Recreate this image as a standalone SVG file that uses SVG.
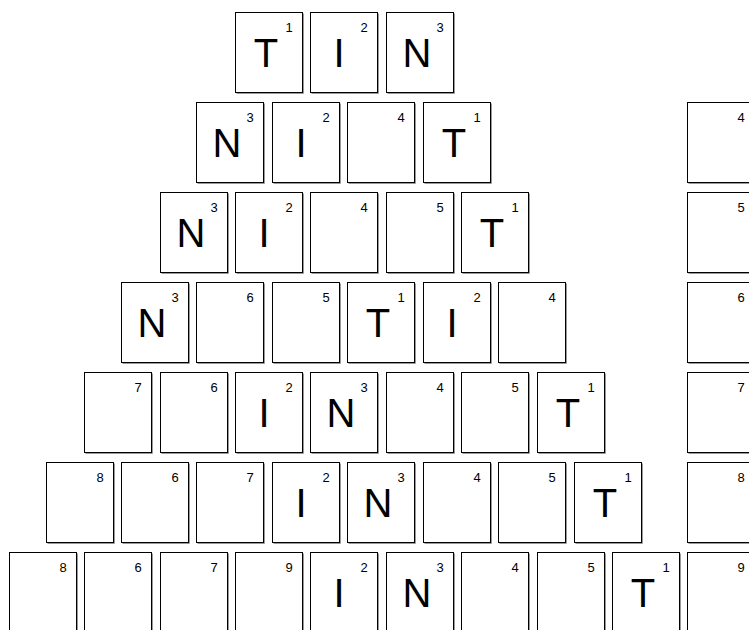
<svg xmlns="http://www.w3.org/2000/svg" width="749" height="630" viewBox="0 0 749 630">
<style>
.bg{fill:#fff}
.L{font-family:"Liberation Sans",Arial,sans-serif;font-size:40px;text-anchor:middle;fill:#000}
.N{font-family:"Liberation Sans",Arial,sans-serif;font-size:13px;text-anchor:middle;fill:#000}
</style>
<defs>
<g id="tile"><path d="M68.5,1.5 V81.5 H1.5" fill="none" stroke="#999" stroke-width="1"/><rect x="0.5" y="0.5" width="67" height="80" fill="#fff" stroke="#000" stroke-width="1"/></g>
</defs>
<rect class="bg" x="0" y="0" width="749" height="630"/>
<g id="connectors"/>
<!-- Row 1 -->
<g id="r1c1" class="t" transform="translate(235,12)"><use href="#tile"/><text class="L" x="31" y="55">T</text><text class="N" x="54" y="20">1</text></g>
<g id="r1c2" class="t" transform="translate(310,12)"><use href="#tile"/><text class="L" x="29" y="55">I</text><text class="N" x="54" y="20">2</text></g>
<g id="r1c3" class="t" transform="translate(386,12)"><use href="#tile"/><text class="L" x="31" y="55">N</text><text class="N" x="54" y="20">3</text></g>
<!-- Row 2 -->
<g id="r2c1" class="t" transform="translate(196,102)"><use href="#tile"/><text class="L" x="31" y="55">N</text><text class="N" x="54" y="20">3</text></g>
<g id="r2c2" class="t" transform="translate(272,102)"><use href="#tile"/><text class="L" x="29" y="55">I</text><text class="N" x="54" y="20">2</text></g>
<g id="r2c3" class="t" transform="translate(347,102)"><use href="#tile"/><text class="N" x="54" y="20">4</text></g>
<g id="r2c4" class="t" transform="translate(423,102)"><use href="#tile"/><text class="L" x="31" y="55">T</text><text class="N" x="54" y="20">1</text></g>
<g id="r2r" class="t" transform="translate(687,102)"><use href="#tile"/><text class="N" x="54" y="20">4</text></g>
<!-- Row 3 -->
<g id="r3c1" class="t" transform="translate(160,192)"><use href="#tile"/><text class="L" x="31" y="55">N</text><text class="N" x="54" y="20">3</text></g>
<g id="r3c2" class="t" transform="translate(235,192)"><use href="#tile"/><text class="L" x="29" y="55">I</text><text class="N" x="54" y="20">2</text></g>
<g id="r3c3" class="t" transform="translate(310,192)"><use href="#tile"/><text class="N" x="54" y="20">4</text></g>
<g id="r3c4" class="t" transform="translate(386,192)"><use href="#tile"/><text class="N" x="54" y="20">5</text></g>
<g id="r3c5" class="t" transform="translate(461,192)"><use href="#tile"/><text class="L" x="31" y="55">T</text><text class="N" x="54" y="20">1</text></g>
<g id="r3r" class="t" transform="translate(687,192)"><use href="#tile"/><text class="N" x="54" y="20">5</text></g>
<!-- Row 4 -->
<g id="r4c1" class="t" transform="translate(121,282)"><use href="#tile"/><text class="L" x="31" y="55">N</text><text class="N" x="54" y="20">3</text></g>
<g id="r4c2" class="t" transform="translate(196,282)"><use href="#tile"/><text class="N" x="54" y="20">6</text></g>
<g id="r4c3" class="t" transform="translate(272,282)"><use href="#tile"/><text class="N" x="54" y="20">5</text></g>
<g id="r4c4" class="t" transform="translate(347,282)"><use href="#tile"/><text class="L" x="31" y="55">T</text><text class="N" x="54" y="20">1</text></g>
<g id="r4c5" class="t" transform="translate(423,282)"><use href="#tile"/><text class="L" x="29" y="55">I</text><text class="N" x="54" y="20">2</text></g>
<g id="r4c6" class="t" transform="translate(498,282)"><use href="#tile"/><text class="N" x="54" y="20">4</text></g>
<g id="r4r" class="t" transform="translate(687,282)"><use href="#tile"/><text class="N" x="54" y="20">6</text></g>
<!-- Row 5 -->
<g id="r5c1" class="t" transform="translate(84,372)"><use href="#tile"/><text class="N" x="54" y="20">7</text></g>
<g id="r5c2" class="t" transform="translate(160,372)"><use href="#tile"/><text class="N" x="54" y="20">6</text></g>
<g id="r5c3" class="t" transform="translate(235,372)"><use href="#tile"/><text class="L" x="29" y="55">I</text><text class="N" x="54" y="20">2</text></g>
<g id="r5c4" class="t" transform="translate(310,372)"><use href="#tile"/><text class="L" x="31" y="55">N</text><text class="N" x="54" y="20">3</text></g>
<g id="r5c5" class="t" transform="translate(386,372)"><use href="#tile"/><text class="N" x="54" y="20">4</text></g>
<g id="r5c6" class="t" transform="translate(461,372)"><use href="#tile"/><text class="N" x="54" y="20">5</text></g>
<g id="r5c7" class="t" transform="translate(537,372)"><use href="#tile"/><text class="L" x="31" y="55">T</text><text class="N" x="54" y="20">1</text></g>
<g id="r5r" class="t" transform="translate(687,372)"><use href="#tile"/><text class="N" x="54" y="20">7</text></g>
<!-- Row 6 -->
<g id="r6c1" class="t" transform="translate(46,462)"><use href="#tile"/><text class="N" x="54" y="20">8</text></g>
<g id="r6c2" class="t" transform="translate(121,462)"><use href="#tile"/><text class="N" x="54" y="20">6</text></g>
<g id="r6c3" class="t" transform="translate(196,462)"><use href="#tile"/><text class="N" x="54" y="20">7</text></g>
<g id="r6c4" class="t" transform="translate(272,462)"><use href="#tile"/><text class="L" x="29" y="55">I</text><text class="N" x="54" y="20">2</text></g>
<g id="r6c5" class="t" transform="translate(347,462)"><use href="#tile"/><text class="L" x="31" y="55">N</text><text class="N" x="54" y="20">3</text></g>
<g id="r6c6" class="t" transform="translate(423,462)"><use href="#tile"/><text class="N" x="54" y="20">4</text></g>
<g id="r6c7" class="t" transform="translate(498,462)"><use href="#tile"/><text class="N" x="54" y="20">5</text></g>
<g id="r6c8" class="t" transform="translate(574,462)"><use href="#tile"/><text class="L" x="31" y="55">T</text><text class="N" x="54" y="20">1</text></g>
<g id="r6r" class="t" transform="translate(687,462)"><use href="#tile"/><text class="N" x="54" y="20">8</text></g>
<!-- Row 7 -->
<g id="r7c1" class="t" transform="translate(9,552)"><use href="#tile"/><text class="N" x="54" y="20">8</text></g>
<g id="r7c2" class="t" transform="translate(84,552)"><use href="#tile"/><text class="N" x="54" y="20">6</text></g>
<g id="r7c3" class="t" transform="translate(160,552)"><use href="#tile"/><text class="N" x="54" y="20">7</text></g>
<g id="r7c4" class="t" transform="translate(235,552)"><use href="#tile"/><text class="N" x="54" y="20">9</text></g>
<g id="r7c5" class="t" transform="translate(310,552)"><use href="#tile"/><text class="L" x="29" y="55">I</text><text class="N" x="54" y="20">2</text></g>
<g id="r7c6" class="t" transform="translate(386,552)"><use href="#tile"/><text class="L" x="31" y="55">N</text><text class="N" x="54" y="20">3</text></g>
<g id="r7c7" class="t" transform="translate(461,552)"><use href="#tile"/><text class="N" x="54" y="20">4</text></g>
<g id="r7c8" class="t" transform="translate(537,552)"><use href="#tile"/><text class="N" x="54" y="20">5</text></g>
<g id="r7c9" class="t" transform="translate(612,552)"><use href="#tile"/><text class="L" x="31" y="55">T</text><text class="N" x="54" y="20">1</text></g>
<g id="r7r" class="t" transform="translate(687,552)"><use href="#tile"/><text class="N" x="54" y="20">9</text></g>
</svg>
